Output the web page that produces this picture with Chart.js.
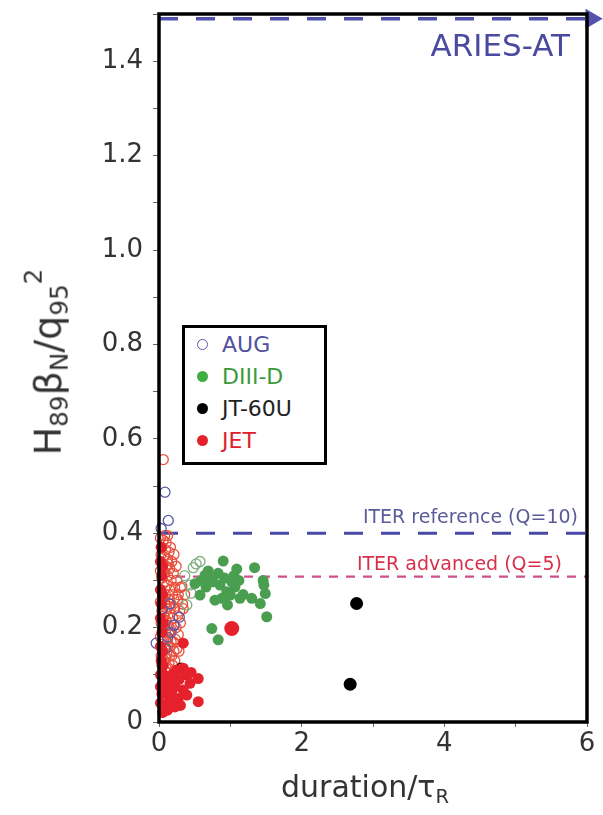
<!DOCTYPE html>
<html>
<head>
<meta charset="utf-8">
<script src="https://cdnjs.cloudflare.com/ajax/libs/Chart.js/4.4.1/chart.umd.min.js"></script>
<style>
  html,body{margin:0;padding:0;background:#fff;}
  #wrap{position:relative;width:603px;height:815px;font-family:'DejaVu Sans',sans-serif;color:#333;}
  #wrap canvas{position:absolute;left:0;top:0;}
  .lbl{position:absolute;white-space:nowrap;line-height:1;}
  #ytitle{left:47px;top:362px;font-size:38px;transform:translate(-50%,-50%) rotate(-90deg);}
  #xtitle{left:365px;top:772px;font-size:30px;transform:translateX(-50%);}
  #ytitle sub,#xtitle sub{font-size:.65em;vertical-align:-.3em;}
  #ytitle sup{font-size:.65em;vertical-align:.75em;}
  #aries{right:33px;top:30px;font-size:31px;color:#4a4aa0;}
  #iterRef{right:25px;top:507px;font-size:19px;color:#5b5b98;}
  #iterAdv{right:41px;top:554px;font-size:19px;color:#d8304a;}
  #legend{position:absolute;left:182px;top:325px;width:145px;height:140px;box-sizing:border-box;
          border:3.5px solid #000;background:#fff;padding-top:1px;font-size:22px;}
  #legend .row{height:32px;line-height:32px;white-space:nowrap;}
  #legend .mk{display:inline-block;width:11px;height:11px;border-radius:50%;box-sizing:border-box;
              margin:0 14px 0 12px;vertical-align:middle;position:relative;top:-2px;}
</style>
</head>
<body>
<div id="wrap">
  <canvas id="c" width="603" height="815"></canvas>
  <div class="lbl" id="ytitle">H<sub>89</sub>β<sub>N</sub>/q<sub>95</sub><sup>2</sup></div>
  <div class="lbl" id="xtitle">duration/τ<sub>R</sub></div>
  <div class="lbl" id="aries">ARIES-AT</div>
  <div class="lbl" id="iterRef">ITER reference (Q=10)</div>
  <div class="lbl" id="iterAdv">ITER advanced (Q=5)</div>
  <div id="legend"></div>
</div>
<script>
// ---- data (x = duration/tauR, y = H89*betaN/q95^2) ----
const X_LABELS = ['0', '2', '4', '6'];
const Y_LABELS = ['0', '0.2', '0.4', '0.6', '0.8', '1.0', '1.2', '1.4'];

const ITER_REF  = 0.40;   // ITER reference (Q=10)
const ITER_ADV  = 0.308;  // ITER advanced (Q=5)
const ARIES_AT  = 1.49;   // off the top, arrow to the right
const ARIES_END = 6.06;

const AUG_OPEN = [[0.084,0.487],[0.13,0.427],[0.285,0.222],[-0.04,0.167],[0.17,0.19],[0.21,0.205],
  [0.12,0.18],[0.05,0.24],[0.09,0.155],[0.03,0.41],[0.15,0.25]];

const DIIID_FILLED = [[0.90,0.341],[1.34,0.327],[1.09,0.324],[0.69,0.320],[0.83,0.315],[0.645,0.311],
  [0.59,0.300],[0.76,0.297],[0.855,0.290],[1.02,0.297],[1.065,0.286],[1.46,0.300],[1.47,0.290],
  [0.505,0.293],[0.95,0.276],[0.575,0.269],[0.785,0.258],[1.00,0.269],[1.135,0.262],[0.96,0.248],
  [1.30,0.262],[1.42,0.251],[1.49,0.272],[1.51,0.223],[0.74,0.198],[0.83,0.174],[0.70,0.305],
  [0.92,0.305],[1.05,0.31],[1.18,0.27],[0.88,0.262],[1.12,0.30],[0.66,0.286]];
const DIIID_OPEN = [[0.575,0.34],[0.48,0.327],[0.435,0.29],[0.45,0.273],[0.39,0.248],[0.36,0.31],[0.52,0.335]];

const JT60U_FILLED = [[2.77,0.251],[2.68,0.080]];
const JT60U_OPEN = [[0.31,0.114]];

const JET_BIG = [[1.02,0.198]];
const JET_FILLED = [[0.34,0.167],[0.34,0.114],[0.55,0.092],[0.34,0.068],[0.55,0.043],[0.154,0.089],
  [0.224,0.075],[0.13,0.057],[0.27,0.05],[0.39,0.057],[0.084,0.036],[0.224,0.032],[0.07,0.10],
  [0.435,0.082],[0.20,0.103],[0.28,0.09],[0.10,0.07],[0.16,0.045],[0.30,0.035],[0.04,0.06],
  [0.05,0.02],[0.12,0.025],[0.45,0.105],[0.38,0.10],[0.18,0.065],[0.25,0.11],[0.06,0.085],
  [0.02,0.04],[0.03,0.13],[0.02,0.16],[0.04,0.19],[0.02,0.22],[0.03,0.25],[0.02,0.28],
  [0.04,0.31],[0.02,0.34],[0.03,0.37],[0.05,0.15],[0.05,0.27],[0.06,0.12],[0.02,0.10],
  [0.06,0.21],[0.05,0.33],[0.02,0.075]];
const JET_OPEN = [[0.06,0.556],
  [0.02,0.39],[0.06,0.385],[0.10,0.38],[0.04,0.37],[0.09,0.365],[0.14,0.36],[0.03,0.355],[0.07,0.35],
  [0.12,0.345],[0.18,0.34],[0.05,0.335],[0.10,0.33],[0.15,0.325],[0.02,0.32],[0.08,0.315],[0.20,0.315],
  [0.12,0.31],[0.04,0.305],[0.17,0.30],[0.25,0.30],[0.07,0.295],[0.11,0.29],[0.22,0.285],[0.03,0.28],
  [0.15,0.28],[0.30,0.285],[0.09,0.27],[0.19,0.27],[0.05,0.265],[0.13,0.26],[0.26,0.26],[0.02,0.255],
  [0.08,0.25],[0.17,0.25],[0.11,0.24],[0.22,0.24],[0.04,0.235],[0.15,0.23],[0.07,0.225],[0.19,0.22],
  [0.10,0.215],[0.03,0.21],[0.13,0.205],[0.24,0.20],[0.06,0.20],[0.17,0.195],[0.09,0.19],[0.27,0.185],
  [0.02,0.18],[0.12,0.175],[0.20,0.17],[0.05,0.165],[0.15,0.16],[0.25,0.155],[0.08,0.155],[0.11,0.145],
  [0.03,0.14],[0.18,0.14],[0.07,0.13],[0.14,0.125],[0.04,0.12],[0.10,0.115],[0.22,0.13],[0.30,0.21],
  [0.33,0.25],[0.28,0.15],[0.32,0.287],[0.34,0.24],
  [0.16,0.37],[0.21,0.355],[0.13,0.335],[0.24,0.33],[0.06,0.32],[0.27,0.27],[0.21,0.26],[0.14,0.245],
  [0.26,0.225],[0.21,0.205],[0.14,0.19],[0.23,0.175],[0.17,0.17],[0.06,0.175],[0.12,0.16],[0.21,0.15],
  [0.15,0.14],[0.09,0.135],[0.19,0.12],[0.36,0.27],[0.29,0.235],[0.08,0.395],[0.12,0.395]];

const COL = {aug:'#5a5aa8', diii:'#4a9e50', diiiOpen:'#7fae7f', jt:'#000', jet:'#e5222c', jetOpen:'#e8503c',
             ref:'#4848a6', adv:'#d0508c', aries:'#5353ad'};

const LEGEND = [['AUG', COL.aug, '#5050a0', true], ['DIII-D', '#3fae42', '#3a9a3a', false],
                ['JT-60U', COL.jt, '#222', false], ['JET', COL.jet, '#e0202c', false]];

const pts = a => a.map(([x, y]) => ({x, y}));
const flat = (y, x0, x1) => [{x: x0, y}, {x: x1, y}];

function dots(data, color, r){ return {data:pts(data), pointRadius:r, pointBackgroundColor:color,
  pointBorderColor:color, pointBorderWidth:0, clip:false}; }
function rings(data, color, r){ return {data:pts(data), pointRadius:r, pointBackgroundColor:'rgba(0,0,0,0)',
  pointBorderColor:color, pointBorderWidth:1.3, clip:false}; }
function dashed(data, color, w, dash, extra){ return Object.assign({data, showLine:true, borderColor:color,
  borderWidth:w, borderDash:dash, pointRadius:0, clip:false}, extra||{}); }

// thick box round the plot, drawn over the points like the original
const frame = {
  id:'frame',
  afterDatasetsDraw(chart){
    const {ctx, chartArea:a} = chart;
    ctx.save(); ctx.lineWidth = 3.5; ctx.strokeStyle = '#000';
    ctx.strokeRect(a.left, a.top, a.right - a.left, a.bottom - a.top);
    ctx.restore();
  }
};

new Chart(document.getElementById('c'), {
  type:'scatter',
  data:{datasets:[
    dots(JT60U_FILLED, COL.jt, 6.5),
    dots(JET_BIG, COL.jet, 7.5),
    dots(DIIID_FILLED, COL.diii, 5.5),
    dots(JET_FILLED, COL.jet, 5.5),
    rings(AUG_OPEN, COL.aug, 5),
    rings(DIIID_OPEN, COL.diiiOpen, 5),
    rings(JT60U_OPEN, COL.jt, 5),
    rings(JET_OPEN, COL.jetOpen, 5),
    dashed(flat(ITER_REF, 0, 6), COL.ref, 3, [19, 18]),
    dashed(flat(ITER_ADV, 0, 6), COL.adv, 2.2, [9, 8]),
    dashed(flat(ARIES_AT, 0, ARIES_END), COL.aries, 3.5, [19, 18],
      {pointRadius:[0, 8], pointStyle:'triangle', rotation:90, pointBackgroundColor:COL.aries,
       pointBorderColor:COL.aries}),
  ]},
  options:{
    responsive:false, animation:false, events:[],
    layout:{padding:{top:14, right:16, left:0, bottom:0}},
    plugins:{legend:{display:false}, tooltip:{enabled:false}},
    scales:{
      x:{min:0, max:6, border:{display:false},
         afterFit:s=>{ s.height = 93; s.paddingLeft = 0; s.paddingRight = 0; },
         grid:{drawOnChartArea:false, tickLength:5, color:'#666'},
         ticks:{stepSize:1, padding:2, color:'#333', font:{family:'DejaVu Sans', size:26},
                maxRotation:0, autoSkip:false,
                callback:v=> v % 2 === 0 ? X_LABELS[v / 2] : ''}},
      y:{min:0, max:1.5, border:{display:false},
         afterFit:s=>{ s.width = 159; s.paddingTop = 0; s.paddingBottom = 0; },
         grid:{drawOnChartArea:false, tickLength:6, color:'#666'},
         ticks:{stepSize:0.1, padding:10, color:'#333', font:{family:'DejaVu Sans', size:26}, autoSkip:false,
                callback:v=>{ const i = Math.round(v * 10); return i % 2 === 0 && i / 2 < Y_LABELS.length ? Y_LABELS[i / 2] : ''; }}}
    }
  },
  plugins:[frame]
});

document.getElementById('legend').innerHTML = LEGEND.map(([name, mk, txt, open]) =>
  `<div class="row"><span class="mk" style="${open ? 'border:1.5px solid ' + mk : 'background:' + mk}"></span>` +
  `<span style="color:${txt}">${name}</span></div>`).join('');
</script>
</body>
</html>
